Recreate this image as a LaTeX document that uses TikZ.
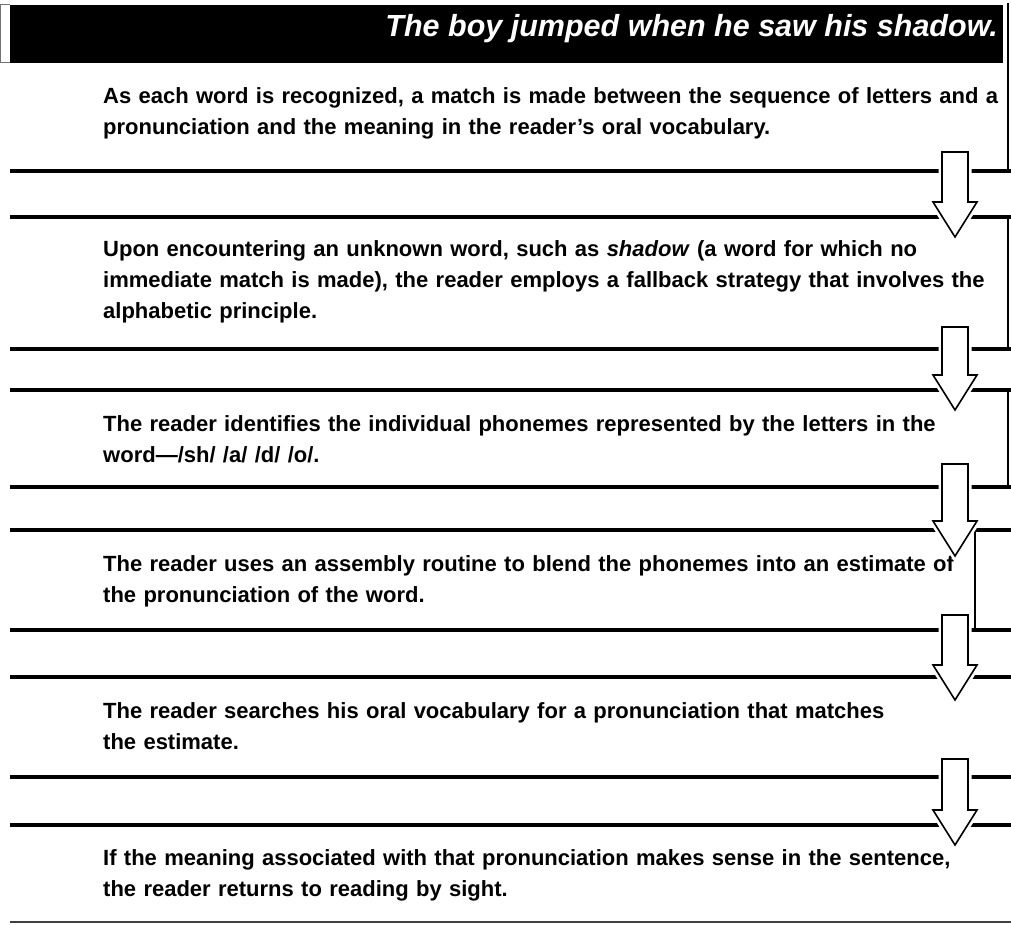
\documentclass[tikz,border=0pt]{standalone}
\usepackage{fontspec}
\setmainfont{Liberation Sans}
\usetikzlibrary{calc}
\newcommand\blockarrow[2]{%
  \draw[arrowshape] let \p1=(#1), \p2=(#2) in
    (\x1-13pt,\y1) -- (\x1+13pt,\y1) -- (\x1+13pt,\y2+35pt) -- (\x1+22pt,\y2+35pt)
    -- (\x1,\y2) -- (\x1-22pt,\y2+35pt) -- (\x1-13pt,\y2+35pt) -- cycle;}
\begin{document}
\begin{tikzpicture}[x=1pt,y=-1pt,
  boxrule/.style={line width=4pt},
  siderule/.style={line width=1.6pt},
  arrowshape/.style={fill=white,draw=black,line width=1.6pt,line join=miter,
    preaction={draw=white,line width=7pt}},
  bodytext/.style={anchor=base west,inner sep=0pt,text width=905pt,align=left,
    font=\fontsize{22}{31}\selectfont\bfseries},
  titletext/.style={anchor=base east,inner sep=0pt,text=white,
    font=\fontsize{30.5}{36}\selectfont\bfseries\itshape}]
\useasboundingbox (0,0) rectangle (1011,925);
% header
\fill[black] (10,5) rectangle (1003,63);
\draw[black!55,line width=1pt] (0,5) -- (10,5) (0,63) -- (10,63) (0.5,5) -- (0.5,63);
\node[titletext] (title) at (998,37) {The boy jumped when he saw his shadow.};
% box rules
\draw[siderule] (1008,3) -- (1008,171);
\draw[boxrule] (10,171) -- (1011,171);
\draw[boxrule] (10,217) -- (1011,217);
\draw[siderule] (1008,217) -- (1008,349);
\draw[boxrule] (10,349) -- (1011,349);
\draw[boxrule] (10,390) -- (1011,390);
\draw[siderule] (1008,390) -- (1008,487);
\draw[boxrule] (10,487) -- (1011,487);
\draw[boxrule] (10,530) -- (1011,530);
\draw[siderule] (975,530) -- (975,630);
\draw[boxrule] (10,630) -- (1011,630);
\draw[boxrule] (10,677) -- (1011,677);
\draw[boxrule] (10,777) -- (1011,777);
\draw[boxrule] (10,825) -- (1011,825);
\draw[black!75,line width=2pt] (10,922) -- (1011,922);
% texts
\node[bodytext] (t1) at (103,104) {As each word is recognized, a match is made between the sequence of letters and a\\pronunciation and the meaning in the reader's oral vocabulary.};
\node[bodytext] (t2) at (103,257) {Upon encountering an unknown word, such as \textit{shadow} (a word for which no\\immediate match is made), the reader employs a fallback strategy that involves the\\alphabetic principle.};
\node[bodytext] (t3) at (103,431) {The reader identifies the individual phonemes represented by the letters in the\\word---/sh/ /a/ /d/ /o/.};
\node[bodytext] (t4) at (103,571) {The reader uses an assembly routine to blend the phonemes into an estimate of\\the pronunciation of the word.};
\node[bodytext] (t5) at (103,718) {The reader searches his oral vocabulary for a pronunciation that matches\\the estimate.};
\node[bodytext] (t6) at (103,865) {If the meaning associated with that pronunciation makes sense in the sentence,\\the reader returns to reading by sight.};
% arrows
\coordinate (a1s) at (955,152); \coordinate (a1e) at (955,237);
\coordinate (a2s) at (955,327); \coordinate (a2e) at (955,410);
\coordinate (a3s) at (955,464); \coordinate (a3e) at (955,556);
\coordinate (a4s) at (955,615); \coordinate (a4e) at (955,700);
\coordinate (a5s) at (955,759); \coordinate (a5e) at (955,845);
\blockarrow{a1s}{a1e}
\blockarrow{a2s}{a2e}
\blockarrow{a3s}{a3e}
\blockarrow{a4s}{a4e}
\blockarrow{a5s}{a5e}
\end{tikzpicture}
\end{document}
